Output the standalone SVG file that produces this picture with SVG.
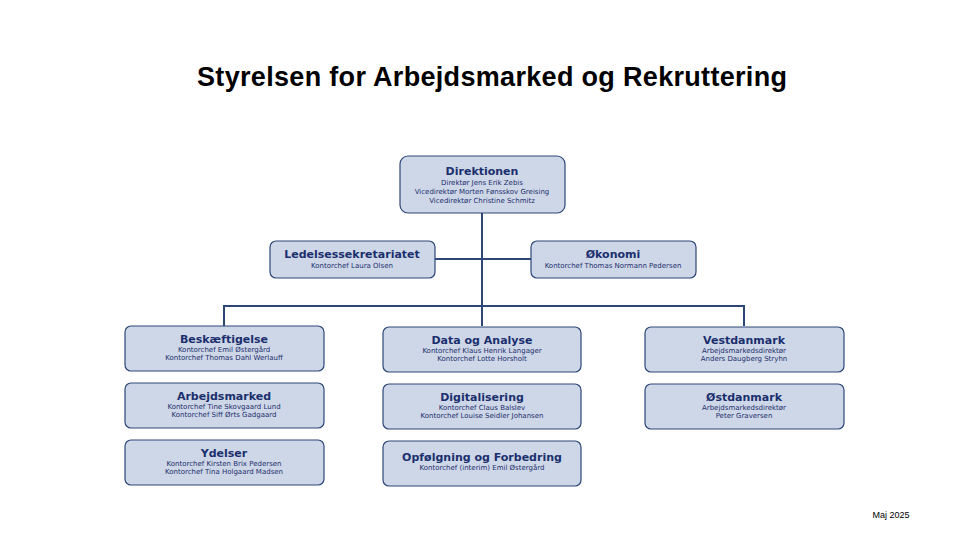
<svg xmlns="http://www.w3.org/2000/svg" width="955" height="537" viewBox="0 0 955 537">
<style>
.b{fill:#ced7e7;stroke:#2c4677;stroke-width:1.2}
.h{font-family:"DejaVu Sans",sans-serif;font-weight:bold;font-size:11px;fill:#1b2f6e;text-anchor:middle}
.s{font-family:"DejaVu Sans",sans-serif;font-size:7px;fill:#1b2f6e;text-anchor:middle}
.c{fill:none;stroke:#2c4677;stroke-width:2}
</style>
<rect width="955" height="537" fill="#fff"/>
<text x="492" y="86" font-family="Liberation Sans,sans-serif" font-weight="bold" font-size="27" text-anchor="middle" textLength="590">Styrelsen for Arbejdsmarked og Rekruttering</text>
<g id="connectors">
<path class="c" d="M482 213V306M435 259H531M224 326V306H744V326M482 306V326"/>
</g>
<g id="direktionen"><rect class="b" x="400" y="156" width="165" height="57" rx="8"/><text class="h" x="482" y="175" font-size="12">Direktionen</text><text class="s" x="482" y="185">Direktør Jens Erik Zebis</text><text class="s" x="482" y="194">Vicedirektør Morten Fønsskov Greising</text><text class="s" x="482" y="203">Vicedirektør Christine Schmitz</text></g>
<g id="ledelse"><rect class="b" x="270" y="241" width="165" height="37" rx="6"/><text class="h" x="352" y="258">Ledelsessekretariatet</text><text class="s" x="352" y="268">Kontorchef Laura Olsen</text></g>
<g id="okonomi"><rect class="b" x="531" y="241" width="165" height="37" rx="6"/><text class="h" x="613" y="258">Økonomi</text><text class="s" x="613" y="268">Kontorchef Thomas Normann Pedersen</text></g>
<g id="beskaeftigelse"><rect class="b" x="125" y="326" width="199" height="45" rx="6"/><text class="h" x="224" y="343">Beskæftigelse</text><text class="s" x="224" y="352">Kontorchef Emil Østergård</text><text class="s" x="224" y="360">Kontorchef Thomas Dahl Werlauff</text></g>
<g id="arbejdsmarked"><rect class="b" x="125" y="383" width="199" height="45" rx="6"/><text class="h" x="224" y="400">Arbejdsmarked</text><text class="s" x="224" y="409">Kontorchef Tine Skovgaard Lund</text><text class="s" x="224" y="417">Kontorchef Siff Ørts Gadgaard</text></g>
<g id="ydelser"><rect class="b" x="125" y="440" width="199" height="45" rx="6"/><text class="h" x="224" y="457">Ydelser</text><text class="s" x="224" y="466">Kontorchef Kirsten Brix Pedersen</text><text class="s" x="224" y="474">Kontorchef Tina Holgaard Madsen</text></g>
<g id="data"><rect class="b" x="383" y="327" width="198" height="45" rx="6"/><text class="h" x="482" y="344">Data og Analyse</text><text class="s" x="482" y="353">Kontorchef Klaus Henrik Langager</text><text class="s" x="482" y="361">Kontorchef Lotte Horsholt</text></g>
<g id="digitalisering"><rect class="b" x="383" y="384" width="198" height="45" rx="6"/><text class="h" x="482" y="401">Digitalisering</text><text class="s" x="482" y="410">Kontorchef Claus Balslev</text><text class="s" x="482" y="418">Kontorchef Louise Seidler Johansen</text></g>
<g id="opfolgning"><rect class="b" x="383" y="441" width="198" height="45" rx="6"/><text class="h" x="482" y="461">Opfølgning  og Forbedring</text><text class="s" x="482" y="470">Kontorchef (interim) Emil Østergård</text></g>
<g id="vestdanmark"><rect class="b" x="645" y="327" width="199" height="45" rx="6"/><text class="h" x="744" y="344">Vestdanmark</text><text class="s" x="744" y="353">Arbejdsmarkedsdirektør</text><text class="s" x="744" y="361">Anders Daugberg Stryhn</text></g>
<g id="ostdanmark"><rect class="b" x="645" y="384" width="199" height="45" rx="6"/><text class="h" x="744" y="401">Østdanmark</text><text class="s" x="744" y="410">Arbejdsmarkedsdirektør</text><text class="s" x="744" y="418">Peter Graversen</text></g>
<text x="891" y="518" font-family="Liberation Sans,sans-serif" font-size="9" text-anchor="middle" fill="#000">Maj 2025</text>
</svg>
